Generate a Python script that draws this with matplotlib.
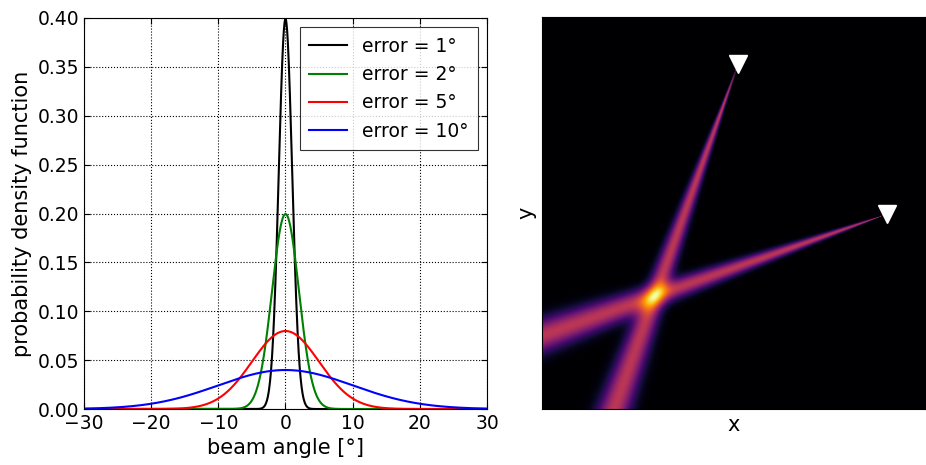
import matplotlib
matplotlib.use("Agg")
import matplotlib.pyplot as plt
import numpy as np

# beam pointing errors shown on the left (standard deviation, degrees)
errors = [1, 2, 5, 10]
colors = ["k", "g", "r", "b"]

# two sonar-like sources on the right: position (x, y) and heading (deg)
source_x = [51.2, 90.1]
source_y = [88.0, 49.7]
source_heading = [-110.2, -161.0]
beam_error = 1.7

angle = np.linspace(-30, 30, 1201)

fig = plt.figure(figsize=(9.26, 4.65), dpi=100)
fig.patch.set_facecolor("white")

ax1 = fig.add_axes([0.0907, 0.1204, 0.4352, 0.8409])
for err, c in zip(errors, colors):
    pdf = np.exp(-0.5 * (angle / err) ** 2) / (err * np.sqrt(2 * np.pi))
    ax1.plot(angle, pdf, color=c, lw=1.5, label="error = %d°" % err)

ax1.set_xlim(-30, 30)
ax1.set_ylim(0, 0.4)
ax1.set_xticks(np.arange(-30, 31, 10))
ax1.set_yticks(np.arange(0, 0.41, 0.05))
ax1.set_yticklabels(["%.2f" % v for v in np.arange(0, 0.41, 0.05)])
ax1.tick_params(direction="in", top=True, right=True, labelsize=13.5, length=4)
ax1.grid(True, color="k", linestyle=":", linewidth=0.8)
ax1.set_xlabel("beam angle [°]", fontsize=15)
ax1.set_ylabel("probability density function", fontsize=15)
leg = ax1.legend(loc="upper right", fontsize=13.5, fancybox=False,
                 handlelength=2.0, borderpad=0.5, labelspacing=0.5)
leg.get_frame().set_edgecolor("k")
leg.get_frame().set_linewidth(0.8)

# beam intensity map: angular gaussian around each heading, summed
n = 400
gx, gy = np.meshgrid(np.linspace(0, 100, n), np.linspace(0, 100, n))
field = np.zeros_like(gx)
for sx, sy, hd in zip(source_x, source_y, source_heading):
    theta = np.degrees(np.arctan2(gy - sy, gx - sx))
    d = (theta - hd + 180) % 360 - 180
    field += np.exp(-0.5 * (d / beam_error) ** 2)

ax2 = fig.add_axes([0.5853, 0.1204, 0.4136, 0.843])
ax2.imshow(field, origin="lower", extent=[0, 100, 0, 100], cmap="inferno",
           vmin=0, vmax=2, aspect="auto", interpolation="bilinear")
ax2.plot(source_x, source_y, "v", color="white", mec="white", ms=13)
ax2.set_xlim(0, 100)
ax2.set_ylim(0, 100)
ax2.set_xticks([])
ax2.set_yticks([])
ax2.set_xlabel("x", fontsize=15)
ax2.set_ylabel("y", fontsize=15)

fig.savefig("out.png", dpi=100)
